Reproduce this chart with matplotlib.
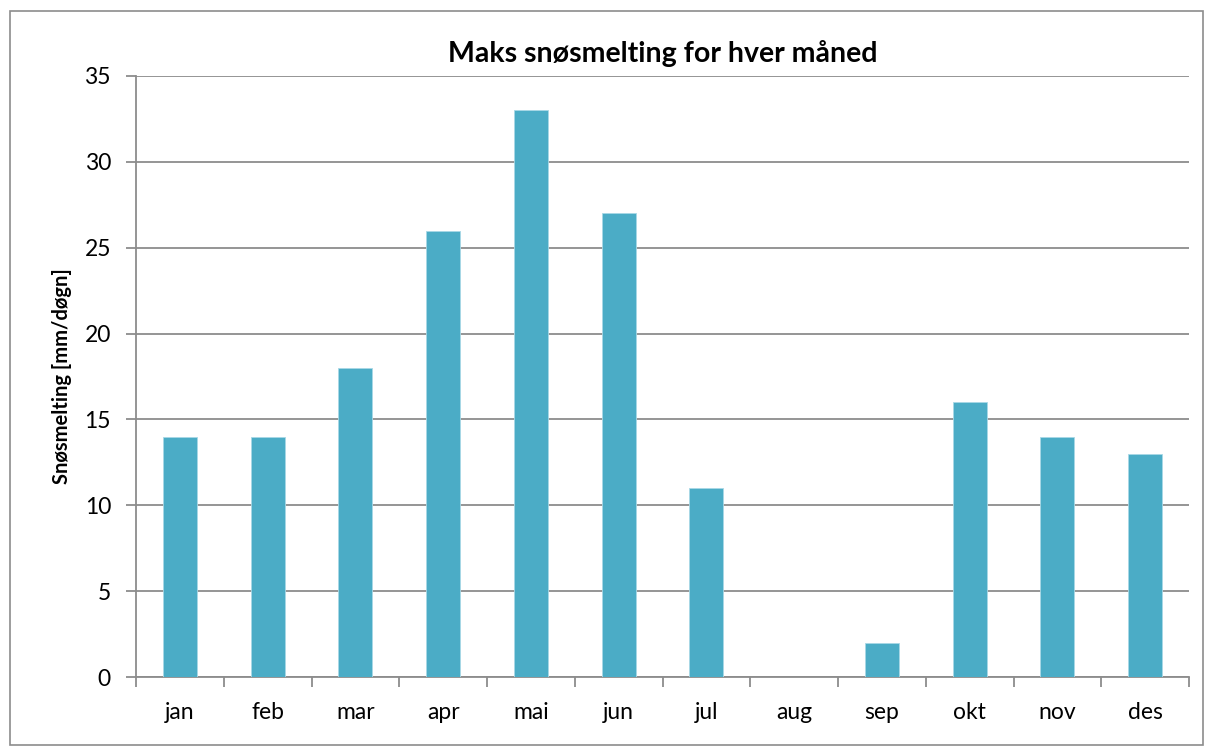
import matplotlib.pyplot as plt
import numpy as np

maaneder = ['jan', 'feb', 'mar', 'apr', 'mai', 'jun', 'jul', 'aug', 'sep', 'okt', 'nov', 'des']
snosmelting = [14, 14, 18, 26, 33, 27, 11, 0, 2, 16, 14, 13]

plt.rcParams['font.family'] = ['Lato', 'DejaVu Sans']

fig = plt.figure(figsize=(12.13, 7.56), dpi=100)
ax = fig.add_axes([136 / 1213, 1 - 677 / 756, (1189 - 136) / 1213, (677 - 76) / 756])

# ramme rundt hele figuren
fig.patches.append(plt.Rectangle((10 / 1213, 1 - 745 / 756), 1193 / 1213, 734 / 756,
                                 transform=fig.transFigure, fill=False,
                                 edgecolor='#8c8c8c', linewidth=1.2))

x = np.arange(len(maaneder))
ax.bar(x, snosmelting, width=0.39, color='#4BACC6', edgecolor='#a8d8e6', linewidth=0.6, zorder=3)

ax.set_xlim(-0.5, len(maaneder) - 0.5)
ax.set_ylim(0, 35)
ax.set_yticks(range(0, 36, 5))
ax.yaxis.grid(True, color='#8c8c8c', linewidth=1.3)
ax.set_axisbelow(True)

ax.set_xticks(x)
ax.set_xticklabels(maaneder, fontsize=16.5)
ax.set_xticks(np.arange(-0.5, len(maaneder)), minor=True)
ax.tick_params(axis='x', which='major', length=0, pad=18)
ax.tick_params(axis='x', which='minor', length=7, width=1.3, color='#8c8c8c')
ax.tick_params(axis='y', length=7, width=1.3, color='#8c8c8c', labelsize=16.5, pad=11)

for side in ['top', 'right']:
    ax.spines[side].set_visible(False)
for side in ['left', 'bottom']:
    ax.spines[side].set_color('#8c8c8c')
    ax.spines[side].set_linewidth(1.3)

ax.set_ylabel('Snøsmelting [mm/døgn]', fontsize=14.5, fontweight='bold', labelpad=9)
ax.set_title('Maks snøsmelting for hver måned', fontsize=20.5, fontweight='bold', pad=10)

fig.savefig('out.png', dpi=100)
